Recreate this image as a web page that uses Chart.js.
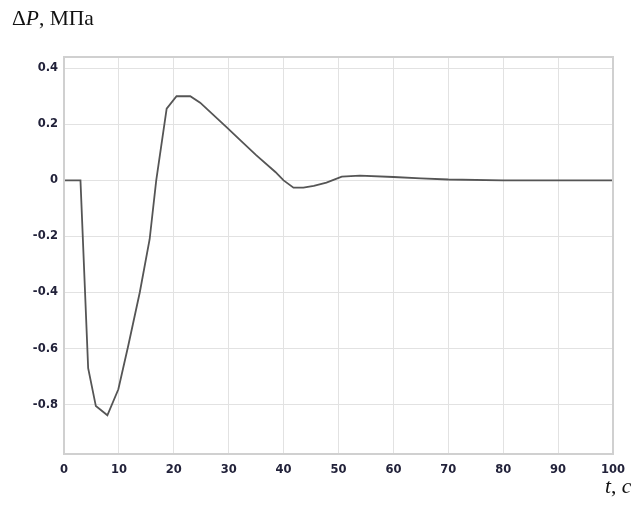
<!DOCTYPE html>
<html>
<head>
<meta charset="utf-8">
<script src="https://cdn.jsdelivr.net/npm/chart.js@4"></script>
<style>
  html, body { margin: 0; padding: 0; background: #fff; }
  #wrap { position: relative; width: 644px; height: 506px; }
  canvas { position: absolute; left: 0; top: 0; }
  .lbl { position: absolute; font-family: "Liberation Serif", "Times New Roman", serif; font-size: 21.5px; line-height: 1; color: #111; white-space: nowrap; }
  #ytitle { left: 12px; top: 8px; }
  #xtitle { left: 605px; top: 476px; }
</style>
</head>
<body>
<div id="wrap">
  <canvas id="c" width="644" height="506"></canvas>
  <div class="lbl" id="ytitle">Δ<i>P</i>, МПа</div>
  <div class="lbl" id="xtitle"><i>t</i>, <i>c</i></div>
</div>
<script>
const timeValues = [0, 3, 4.4, 5.8, 7.9, 9.9, 11.7, 13.8, 15.6, 16.8, 18.7, 20.5, 23, 24.8, 27, 29.6, 32, 35, 38.5, 40, 41.8, 43.6, 45.5, 47.8, 50.6, 53.9, 60, 65, 70, 80, 100];
const deltaP =     [0, 0, -0.67, -0.805, -0.838, -0.745, -0.59, -0.40, -0.21, 0.0, 0.256, 0.30, 0.30, 0.277, 0.237, 0.19, 0.145, 0.09, 0.03, 0.0, -0.026, -0.026, -0.02, -0.008, 0.013, 0.017, 0.012, 0.007, 0.003, 0.0, 0.0];
const xTicks = [0, 10, 20, 30, 40, 50, 60, 70, 80, 90, 100];
const yTicks = [-0.8, -0.6, -0.4, -0.2, 0, 0.2, 0.4];
const yTickLabels = ["-0.8", "-0.6", "-0.4", "-0.2", "0", "0.2", "0.4"];

const points = timeValues.map((t, i) => ({ x: t, y: deltaP[i] }));

const frame = {
  id: 'frame',
  afterDraw(chart) {
    const a = chart.chartArea, ctx = chart.ctx;
    ctx.save();
    ctx.strokeStyle = '#d0d0d0';
    ctx.lineWidth = 2;
    ctx.strokeRect(a.left, a.top, a.right - a.left, a.bottom - a.top);
    ctx.restore();
  }
};

new Chart(document.getElementById('c'), {
  type: 'scatter',
  data: {
    datasets: [{
      data: points,
      showLine: true,
      borderColor: '#555555',
      borderWidth: 1.8,
      pointRadius: 0,
      tension: 0,
      fill: false
    }]
  },
  options: {
    responsive: false,
    animation: false,
    events: [],
    layout: { padding: { left: 0, right: 31, top: 57, bottom: 22 } },
    plugins: { legend: { display: false }, tooltip: { enabled: false } },
    scales: {
      x: {
        type: 'linear',
        min: 0, max: 100,
        afterBuildTicks(s) { s.ticks = xTicks.map(v => ({ value: v })); },
        afterFit(s) { s.height = 30; },
        grid: { color: '#e2e2e2', lineWidth: 1, drawTicks: false },
        border: { display: false },
        ticks: {
          padding: 9,
          maxRotation: 0,
          autoSkip: false,
          color: '#22223a',
          font: { family: 'DejaVu Sans', size: 11.5, weight: 'bold' },
          callback: v => String(v)
        }
      },
      y: {
        type: 'linear',
        min: -0.976, max: 0.44,
        afterBuildTicks(s) { s.ticks = yTicks.map(v => ({ value: v })); },
        afterFit(s) { s.width = 64; },
        grid: { color: '#e2e2e2', lineWidth: 1, drawTicks: false },
        border: { display: false },
        ticks: {
          padding: 6,
          autoSkip: false,
          color: '#22223a',
          font: { family: 'DejaVu Sans', size: 11.5, weight: 'bold' },
          callback: v => { const i = yTicks.findIndex(t => Math.abs(t - v) < 1e-9); return i >= 0 ? yTickLabels[i] : ''; }
        }
      }
    }
  },
  plugins: [frame]
});
</script>
</body>
</html>
